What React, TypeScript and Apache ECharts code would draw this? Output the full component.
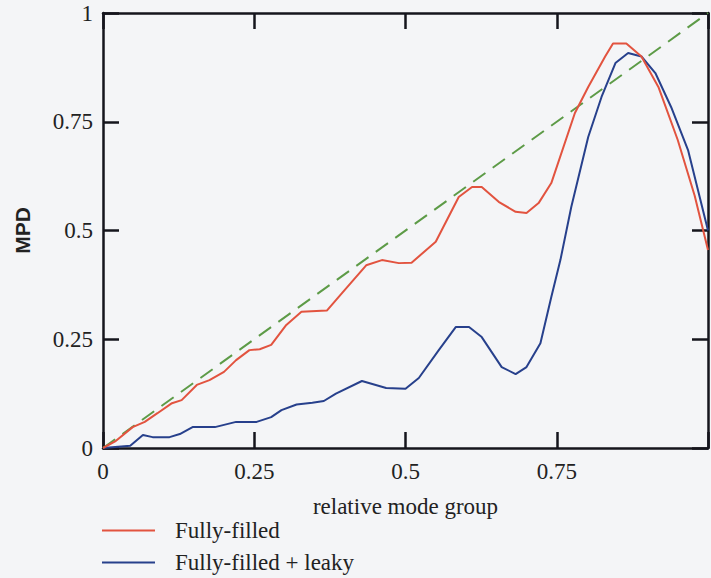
import React, { useEffect, useRef } from "react";
import * as echarts from "echarts";

const filledX = [0, 0.02, 0.049, 0.069, 0.09, 0.114, 0.13, 0.155, 0.176, 0.2, 0.22, 0.242, 0.259, 0.278, 0.303, 0.328, 0.353, 0.37, 0.395, 0.435, 0.461, 0.489, 0.51, 0.55, 0.588, 0.61, 0.626, 0.654, 0.682, 0.7, 0.72, 0.741, 0.78, 0.802, 0.83, 0.843, 0.865, 0.89, 0.918, 0.95, 0.978, 1.0];
const filledY = [0, 0.015, 0.048, 0.06, 0.08, 0.103, 0.11, 0.145, 0.156, 0.175, 0.202, 0.225, 0.227, 0.237, 0.283, 0.313, 0.315, 0.316, 0.356, 0.42, 0.432, 0.425, 0.426, 0.474, 0.577, 0.6, 0.6, 0.566, 0.543, 0.54, 0.563, 0.609, 0.77, 0.83, 0.9, 0.93, 0.93, 0.9, 0.83, 0.708, 0.58, 0.455];

const leakyX = [0, 0.045, 0.066, 0.082, 0.11, 0.127, 0.148, 0.185, 0.22, 0.254, 0.278, 0.295, 0.32, 0.346, 0.365, 0.385, 0.428, 0.468, 0.5, 0.522, 0.555, 0.583, 0.605, 0.626, 0.659, 0.682, 0.7, 0.723, 0.741, 0.756, 0.774, 0.802, 0.824, 0.847, 0.868, 0.89, 0.913, 0.939, 0.967, 1.0];
const leakyY = [0, 0.005, 0.03, 0.025, 0.025, 0.032, 0.048, 0.048, 0.06, 0.06, 0.071, 0.087, 0.1, 0.104, 0.108, 0.125, 0.154, 0.138, 0.136, 0.161, 0.225, 0.278, 0.278, 0.255, 0.186, 0.17, 0.186, 0.241, 0.347, 0.432, 0.554, 0.715, 0.807, 0.885, 0.908, 0.9, 0.862, 0.784, 0.685, 0.5];

const diagX = [0, 1];
const diagY = [0, 1];

const seriesNames = ["Fully-filled", "Fully-filled + leaky"];

const zip = (xs: number[], ys: number[]) => xs.map((x, i) => [x, ys[i]]);

const AXIS_COLOR = "#15151c";
const TEXT_COLOR = "#222";
const SERIF = "'Liberation Serif', 'Times New Roman', serif";
const FS = 23;

export default function App() {
  const ref = useRef<HTMLDivElement>(null);
  useEffect(() => {
    if (!ref.current) return;
    const chart = echarts.init(ref.current, undefined, { renderer: "svg" });
    const axisLine = { show: true, onZero: false, lineStyle: { color: AXIS_COLOR, width: 2.5 } };
    const axisTick = { show: true, inside: true, length: 16, lineStyle: { color: AXIS_COLOR, width: 2.5 } };
    chart.setOption({
      animation: false,
      backgroundColor: "#f4f5f7",
      grid: { left: 103, right: 1, top: 13, bottom: 130, containLabel: false },
      legend: {
        show: true,
        orient: "vertical",
        left: 102,
        top: 519,
        padding: 0,
        data: seriesNames,
        icon: "path://M0,0H53V2H0Z M68,0H68.01V2H68Z",
        itemWidth: 68,
        itemHeight: 2,
        itemGap: 9,
        textStyle: { fontFamily: SERIF, fontSize: FS, color: TEXT_COLOR },
      },
      xAxis: [
        {
          type: "value",
          min: 0,
          max: 1,
          interval: 0.25,
          position: "bottom",
          name: "relative mode group",
          nameLocation: "middle",
          nameGap: 47,
          nameTextStyle: { fontFamily: SERIF, fontSize: FS, color: TEXT_COLOR },
          axisLine,
          axisTick,
          splitLine: { show: false },
          axisLabel: {
            margin: 12,
            fontFamily: SERIF,
            fontSize: FS,
            color: TEXT_COLOR,
            formatter: (v: number) => (v === 1 ? "" : String(v)),
          },
        },
        {
          type: "value",
          min: 0,
          max: 1,
          interval: 0.25,
          position: "top",
          axisLine,
          axisTick,
          splitLine: { show: false },
          axisLabel: { show: false },
        },
      ],
      yAxis: [
        {
          type: "value",
          min: 0,
          max: 1,
          interval: 0.25,
          position: "left",
          name: "MPD",
          nameLocation: "middle",
          nameGap: 70,
          nameRotate: 90,
          nameTextStyle: { fontFamily: "'Liberation Sans', Arial, sans-serif", fontWeight: "bold", fontSize: 21, color: TEXT_COLOR },
          axisLine,
          axisTick,
          splitLine: { show: false },
          axisLabel: {
            margin: 10,
            fontFamily: SERIF,
            fontSize: FS,
            color: TEXT_COLOR,
            formatter: (v: number) => String(v),
          },
        },
        {
          type: "value",
          min: 0,
          max: 1,
          interval: 0.25,
          position: "right",
          axisLine,
          axisTick,
          splitLine: { show: false },
          axisLabel: { show: false },
        },
      ],
      series: [
        {
          name: "diagonal",
          type: "line",
          data: zip(diagX, diagY),
          showSymbol: false,
          lineStyle: { color: "#5d9b47", width: 2, type: [15, 9] },
          z: 1,
        },
        {
          name: seriesNames[0],
          type: "line",
          data: zip(filledX, filledY),
          showSymbol: false,
          itemStyle: { color: "#e2533f" },
          lineStyle: { color: "#e2533f", width: 2 },
          z: 3,
        },
        {
          name: seriesNames[1],
          type: "line",
          data: zip(leakyX, leakyY),
          showSymbol: false,
          itemStyle: { color: "#27408c" },
          lineStyle: { color: "#27408c", width: 2 },
          z: 2,
        },
      ],
    });
    return () => chart.dispose();
  }, []);
  return (
    <div
      ref={ref}
      style={{ position: "absolute", left: 0, top: 0, width: 711, height: 578 }}
    />
  );
}
